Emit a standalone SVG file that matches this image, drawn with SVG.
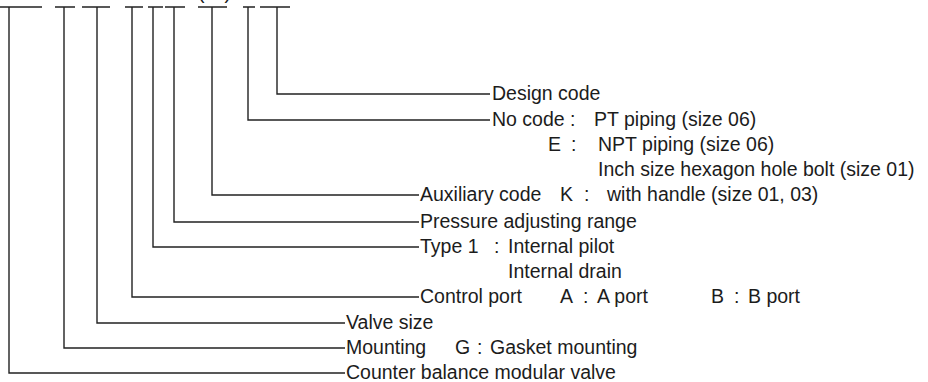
<svg xmlns="http://www.w3.org/2000/svg" width="928" height="382" viewBox="0 0 928 382">
<style>
.ln{fill:none;stroke:#222222;stroke-width:1.4}
.t{font-family:"Liberation Sans",Arial,sans-serif;font-size:19.5px;fill:#1c1c1c}
</style>
<rect width="928" height="382" fill="#ffffff"/>
<g id="model-code">
<text class="t" x="198" y="-1">(<tspan dx="20">)</tspan></text>
<path class="ln" d="M0 7H42M55 7H75M82 7H110M125 7H143M148 7H163M165 7H185M198 7H227M243 7H255M260 7H290"/>
</g>
<g id="connectors">
<path class="ln" d="M277 7V94H490"/>
<path class="ln" d="M248 7V120H490"/>
<path class="ln" d="M212 7V195H419"/>
<path class="ln" d="M174 7V222H419"/>
<path class="ln" d="M153 7V247H419"/>
<path class="ln" d="M132 7V297H419"/>
<path class="ln" d="M97 7V323H345"/>
<path class="ln" d="M64 7V348H345"/>
<path class="ln" d="M9 7V373H345"/>
</g>
<g id="design-code"><text class="t" x="492" y="100">Design code</text></g>
<g id="piping">
<text class="t" x="492" y="126">No code :</text>
<text class="t" x="594" y="126">PT piping (size 06)</text>
<text class="t" x="548" y="151">E</text>
<text class="t" x="571" y="151">:</text>
<text class="t" x="598" y="151">NPT piping (size 06)</text>
<text class="t" x="598" y="176">Inch size hexagon hole bolt (size 01)</text>
</g>
<g id="auxiliary-code">
<text class="t" x="420" y="201">Auxiliary code</text>
<text class="t" x="560" y="201">K</text>
<text class="t" x="584" y="201">:</text>
<text class="t" x="607" y="201">with handle (size 01, 03)</text>
</g>
<g id="pressure-range"><text class="t" x="420" y="228">Pressure adjusting range</text></g>
<g id="type">
<text class="t" x="420" y="253">Type 1</text>
<text class="t" x="494" y="253">:</text>
<text class="t" x="508" y="253">Internal pilot</text>
<text class="t" x="508" y="278">Internal drain</text>
</g>
<g id="control-port">
<text class="t" x="420" y="303">Control port</text>
<text class="t" x="560" y="303">A</text>
<text class="t" x="583" y="303">:</text>
<text class="t" x="597" y="303">A port</text>
<text class="t" x="711" y="303">B</text>
<text class="t" x="734" y="303">:</text>
<text class="t" x="748" y="303">B port</text>
</g>
<g id="valve-size"><text class="t" x="346" y="329">Valve size</text></g>
<g id="mounting">
<text class="t" x="346" y="354">Mounting</text>
<text class="t" x="455" y="354">G</text>
<text class="t" x="477" y="354">:</text>
<text class="t" x="490" y="354">Gasket mounting</text>
</g>
<g id="counter-balance"><text class="t" x="346" y="379">Counter balance modular valve</text></g>
</svg>
